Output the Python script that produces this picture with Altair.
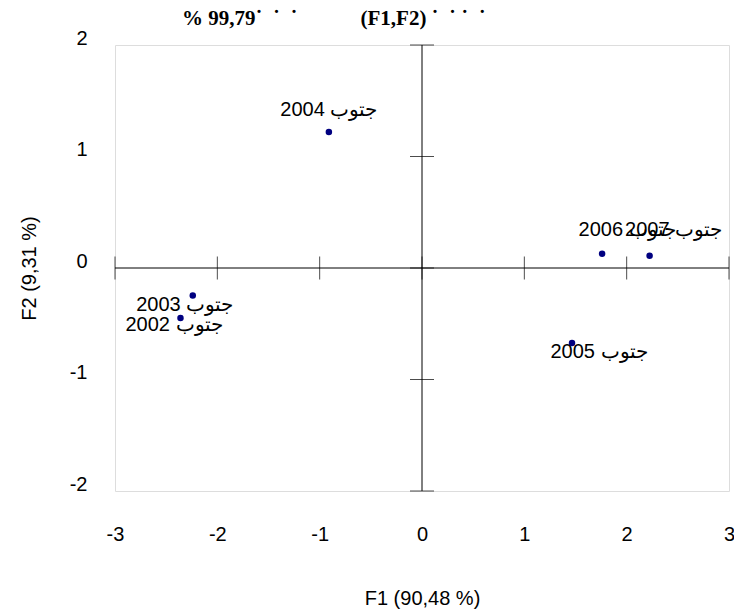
import altair as alt
import pandas as pd

# ---- data ----
years = ["2002", "2003", "2004", "2005", "2006", "2007"]
f1 = [-2.36, -2.24, -0.91, 1.466, 1.76, 2.224]
f2 = [-0.448, -0.246, 1.22, -0.673, 0.128, 0.110]
names = ["جتوب " + y for y in years]

x_ticks = [-3, -2, -1, 0, 1, 2, 3]
y_ticks = [-2, -1, 0, 1, 2]

x_title = "F1 (90,48 %)"
y_title = "F2 (9,31 %)"
NB = "\u00a0"
title_text = ("% 99,79˙" + NB * 2 + "˙" + NB * 2 + "˙" + NB * 12 +
              "(F1,F2)" + NB + "˙" + NB * 2 + "˙" + NB + "˙" + NB * 2 + "˙")

# label placement (pixel offsets from each point), style only
label_offsets = {
    "2002": (-6.5, 6.7),
    "2003": (-8, 9.3),
    "2004": (0, -21.6),
    "2005": (27, 8.7),
    "2006": (25, -23.5),
    "2007": (24, -25.5),
}

df = pd.DataFrame({"year": years, "F1": f1, "F2": f2, "name": names})
xt = pd.DataFrame({"v": x_ticks})
yt = pd.DataFrame({"v": y_ticks})

FONT = "Liberation Sans"
xscale = alt.Scale(domain=[-3, 3], nice=False, zero=False)
yscale = alt.Scale(domain=[-2, 2], nice=False, zero=False)
LBL = "datum.value + ''"

base = alt.Chart(df)

points = base.mark_circle(size=42, color="#000080", opacity=1).encode(
    x=alt.X("F1:Q", scale=xscale,
            axis=alt.Axis(values=x_ticks, title=x_title, domain=False, ticks=False,
                          grid=False, labelFont=FONT, labelFontSize=20, labelExpr=LBL,
                          labelColor="#000", labelPadding=33, labelFlush=False,
                          titleFont=FONT, titleFontSize=20, titleFontWeight="normal",
                          titleColor="#000", titleY=107, titleBaseline="middle")),
    y=alt.Y("F2:Q", scale=yscale,
            axis=alt.Axis(values=y_ticks, title=y_title, domain=False, ticks=False,
                          grid=False, labelFont=FONT, labelFontSize=20, labelExpr=LBL,
                          labelColor="#000", labelPadding=28, labelOffset=-7,
                          labelFlush=False,
                          titleFont=FONT, titleFontSize=20, titleFontWeight="normal",
                          titleColor="#000", titleX=-86, titleY=223,
                          titleBaseline="middle", titleAlign="center")),
)

vrule = alt.Chart(pd.DataFrame({"v": [0]})).mark_rule(color="#000", strokeWidth=1).encode(
    x=alt.X("v:Q", scale=xscale))
hrule = alt.Chart(pd.DataFrame({"v": [0]})).mark_rule(color="#000", strokeWidth=1).encode(
    y=alt.Y("v:Q", scale=yscale))

xticks_m = alt.Chart(xt).mark_tick(orient="vertical", size=23, thickness=1, color="#000").encode(
    x=alt.X("v:Q", scale=xscale), y=alt.datum(0, scale=yscale))
yticks_m = alt.Chart(yt).mark_tick(orient="horizontal", size=24, thickness=1, color="#000").encode(
    y=alt.Y("v:Q", scale=yscale), x=alt.datum(0, scale=xscale))

labels = []
for yr, (dx, dy) in label_offsets.items():
    labels.append(
        base.transform_filter(alt.datum.year == yr)
        .mark_text(font=FONT, fontSize=20, color="#000", dx=dx, dy=dy,
                   align="center", baseline="middle")
        .encode(x=alt.X("F1:Q", scale=xscale), y=alt.Y("F2:Q", scale=yscale), text="name:N")
    )

title_mark = alt.Chart(pd.DataFrame({"t": [title_text]})).mark_text(
    font="Liberation Serif", fontSize=21, fontWeight="bold", color="#000",
    align="left", baseline="alphabetic", clip=False
).encode(x=alt.value(67), y=alt.value(-20.5), text="t:N")

chart = alt.layer(vrule, hrule, xticks_m, yticks_m, points, *labels, title_mark).properties(
    width=614, height=446,
    padding={"left": 115, "top": 45, "right": 5, "bottom": 122},
    autosize=alt.AutoSizeParams(type="none"),
).configure_view(stroke="#808080", strokeWidth=1).configure(background="white")

chart.save("out.html", embed_options={"renderer": "svg", "actions": False})
